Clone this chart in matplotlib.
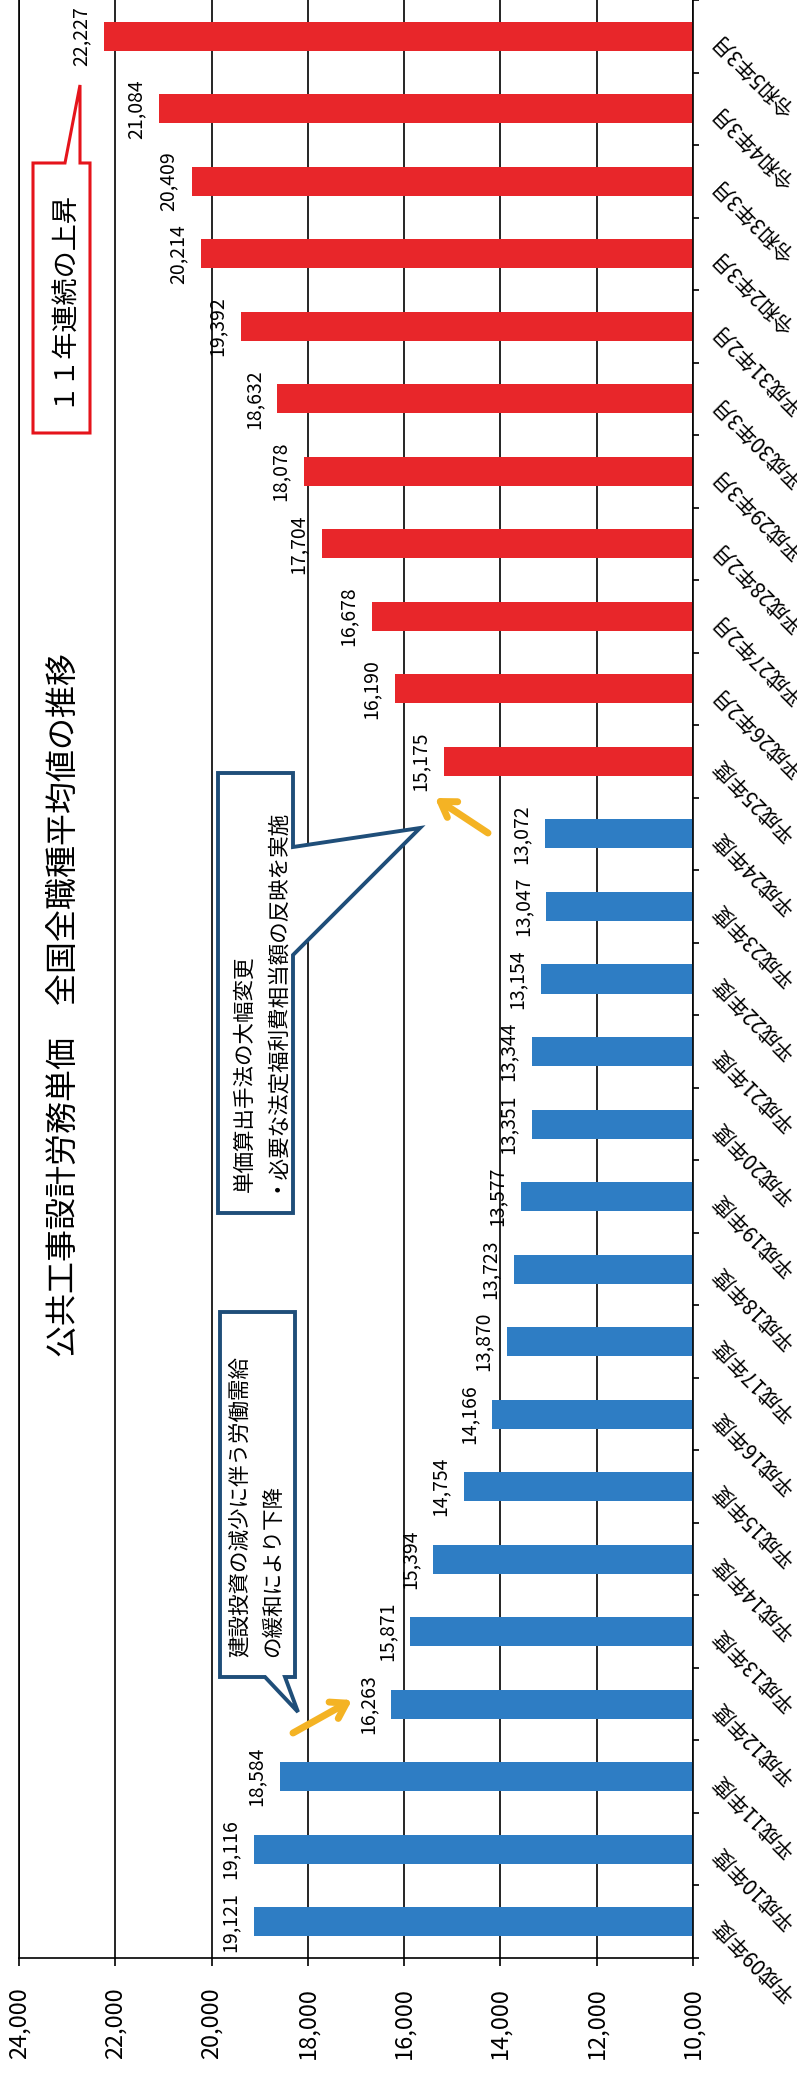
import matplotlib
matplotlib.use('Agg')
import matplotlib.pyplot as plt
from matplotlib.patches import Polygon
from matplotlib.ticker import StrMethodFormatter
import numpy as np

plt.rcParams['font.family'] = ['Noto Sans CJK JP', 'DejaVu Sans']

# 公共工事設計労務単価 全国全職種平均値 (円)
periods = ['平成09年度', '平成10年度', '平成11年度', '平成12年度', '平成13年度',
           '平成14年度', '平成15年度', '平成16年度', '平成17年度', '平成18年度',
           '平成19年度', '平成20年度', '平成21年度', '平成22年度', '平成23年度',
           '平成24年度', '平成25年度', '平成26年2月', '平成27年2月', '平成28年2月',
           '平成29年3月', '平成30年3月', '平成31年2月', '令和2年3月', '令和3年3月',
           '令和4年3月', '令和5年3月']
wages = [19121, 19116, 18584, 16263, 15871, 15394, 14754, 14166, 13870, 13723,
         13577, 13351, 13344, 13154, 13047, 13072, 15175, 16190, 16678, 17704,
         18078, 18632, 19392, 20214, 20409, 21084, 22227]
n_falling = 16  # 平成09〜24年度 (blue), the rest rising (red)

W, H = 797, 2078
fig = plt.figure(figsize=(W / 100, H / 100), dpi=100)

# chart is drawn rotated: values run right->left, periods bottom->top
ax = fig.add_axes([19 / W, 1 - 1958 / H, (693 - 19) / W, 1958 / H])
ypos = np.arange(len(periods))
colors = ['#2E7DC4'] * n_falling + ['#E8262A'] * (len(periods) - n_falling)
ax.barh(ypos, wages, height=0.4, color=colors)
ax.set_axisbelow(True)

ax.set_xlim(24000, 10000)
ax.set_ylim(-0.5, len(periods) - 0.5)
ax.set_xticks(np.arange(10000, 24001, 2000))
ax.xaxis.set_major_formatter(StrMethodFormatter('{x:,.0f}'))
ax.tick_params(axis='x', direction='out', length=6, width=1.2, pad=15,
               labelsize=17, labelrotation=90)
ax.grid(axis='x', color='black', lw=1.2)

ax.yaxis.tick_right()
ax.set_yticks(np.arange(-0.5, len(periods), 1))
ax.tick_params(axis='y', direction='out', length=4, width=1.2,
               labelright=False, labelleft=False)
ax.spines['top'].set_visible(False)
for s in ['left', 'right', 'bottom']:
    ax.spines[s].set_color('black')
    ax.spines[s].set_linewidth(1.2)

# period labels (diagonal, right of the axis)
for i, p in enumerate(periods):
    ax.annotate(p, xy=(1, i), xycoords=('axes fraction', 'data'),
                xytext=(16.5, 0), textcoords='offset points',
                rotation=135, rotation_mode='anchor', ha='right', va='center',
                fontsize=15, annotation_clip=False)

# value labels
for i, v in enumerate(wages):
    ax.annotate(f'{v:,}', xy=(v, i), xytext=(-17, 0), textcoords='offset points',
                rotation=90, ha='center', va='center', fontsize=14)

# overlay in pixel coordinates for title and callouts
ov = fig.add_axes([0, 0, 1, 1])
ov.set_xlim(0, W)
ov.set_ylim(H, 0)
ov.axis('off')

ov.text(63.5, 1005, '公共工事設計労務単価　全国全職種平均値の推移',
        rotation=90, ha='center', va='center', fontsize=23)

ov.add_patch(Polygon([(33, 163), (65, 163), (80, 85), (80, 163), (90, 163),
                      (90, 433), (33, 433)], closed=True, fc='white',
                     ec='#E5141B', lw=2.2, joinstyle='miter'))
ov.text(62, 298, '１１年連続の上昇', rotation=90, ha='center', va='center',
        fontsize=19.5)

navy = '#1F4E79'
ov.add_patch(Polygon([(218, 773), (293, 773), (293, 847), (420, 828), (293, 955),
                      (293, 1213), (218, 1213)], closed=True, fc='white',
                     ec=navy, lw=2.8, joinstyle='miter'))
ov.text(245, 1192, '単価算出手法の大幅変更', rotation=90, rotation_mode='anchor',
        ha='left', va='center', fontsize=15.5)
ov.text(272, 1192, '・必要な法定福利費相当額の反映を実施', rotation=90,
        rotation_mode='anchor', ha='left', va='center', fontsize=15.5)

ov.add_patch(Polygon([(220, 1312), (295, 1312), (295, 1677), (285, 1677),
                      (298, 1712), (265, 1677), (220, 1677)], closed=True,
                     fc='white', ec=navy, lw=2.8, joinstyle='miter'))
ov.text(240, 1657, '建設投資の減少に伴う労働需給', rotation=90, rotation_mode='anchor',
        ha='left', va='center', fontsize=15.5)
ov.text(273, 1657, 'の緩和により下降', rotation=90, rotation_mode='anchor',
        ha='left', va='center', fontsize=15.5)

arrow_kw = dict(arrowstyle='->,head_length=0.7,head_width=0.45', color='#F4B324',
                lw=5, mutation_scale=15, shrinkA=0, shrinkB=0, capstyle='round')
ov.annotate('', xy=(352, 1700), xytext=(293, 1733), arrowprops=arrow_kw)
ov.annotate('', xy=(435, 798), xytext=(488, 833), arrowprops=arrow_kw)

fig.savefig('out.png', dpi=100)
